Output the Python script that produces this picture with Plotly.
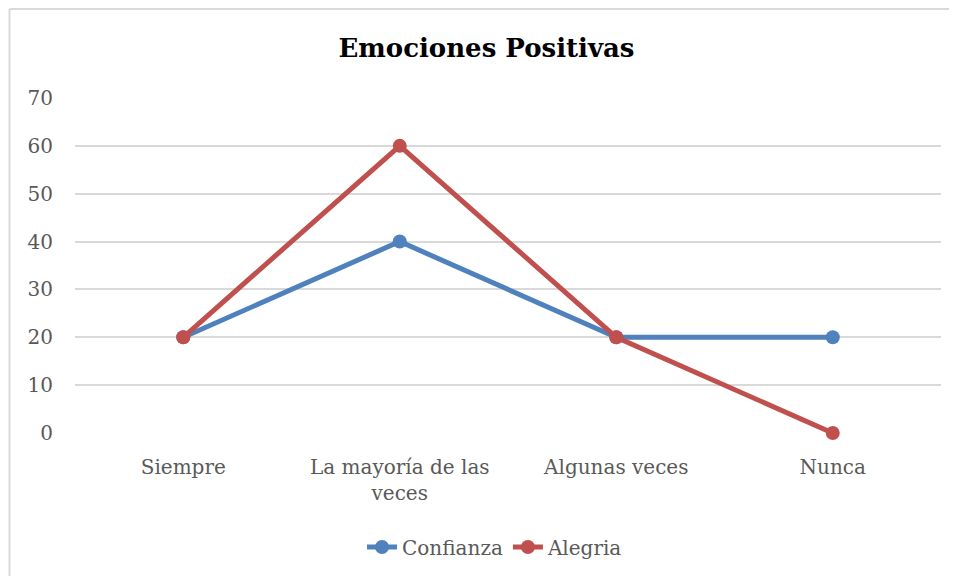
import plotly.graph_objects as go

categories = ["Siempre", "La mayoría de las<br>veces", "Algunas veces", "Nunca"]
confianza = [20, 40, 20, 20]
alegria = [20, 60, 20, 0]
y_ticks = [0, 10, 20, 30, 40, 50, 60, 70]

FONT = "DejaVu Serif"
OFF = 8  # page body margin
W, H = 957, 576
L, R, T, B = 75 - OFF, 16 + OFF, 97 - OFF, 142 + OFF
pw, ph = W - L - R, H - T - B

fig = go.Figure()
fig.add_trace(go.Scatter(x=categories, y=confianza, name="Confianza", mode="lines+markers",
                         cliponaxis=False,
                         line=dict(color="#4F81BD", width=5), marker=dict(size=14, color="#4F81BD")))
fig.add_trace(go.Scatter(x=categories, y=alegria, name="Alegria", mode="lines+markers",
                         cliponaxis=False,
                         line=dict(color="#C0504D", width=5), marker=dict(size=14, color="#C0504D")))

# outer chart border (left and top)
x0 = (9.5 - OFF - L) / pw
ytop = (H - 1.0 - B) / ph
ybot = (0 - B) / ph
xright = (W - L) / pw
fig.add_shape(type="line", xref="paper", yref="paper", x0=x0, x1=x0, y0=ybot, y1=ytop,
              line=dict(color="#D9D9D9", width=2))
fig.add_shape(type="line", xref="paper", yref="paper", x0=x0, x1=xright, y0=ytop, y1=ytop,
              line=dict(color="#D9D9D9", width=2))

fig.update_layout(
    width=W, height=H,
    margin=dict(l=L, r=R, t=T, b=B),
    paper_bgcolor="white", plot_bgcolor="white",
    title=dict(text="<b>Emociones Positivas</b>", x=0.5, xanchor="center", y=1 - (48 - OFF) / H, yanchor="middle",
               font=dict(family=FONT, size=26, color="#000000")),
    font=dict(family=FONT, size=20, color="#595959"),
    xaxis=dict(type="category", range=[-0.5, 3.5], showgrid=False, showline=False, zeroline=False,
               ticks="", ticklabelstandoff=19, tickfont=dict(family=FONT, size=20, color="#595959")),
    yaxis=dict(range=[-0.2, 70.2], tickvals=y_ticks, showgrid=True, gridcolor="#D9D9D9", gridwidth=1.5,
               zeroline=False, showline=False, ticks="", ticklabelstandoff=21,
               tickfont=dict(family=FONT, size=20, color="#595959")),
    legend=dict(orientation="h", x=0.485, xanchor="center", y=-(547 - 434) / ph, yanchor="middle",
                font=dict(family=FONT, size=20, color="#595959")),
    showlegend=True,
)
fig.write_html("out.html")
